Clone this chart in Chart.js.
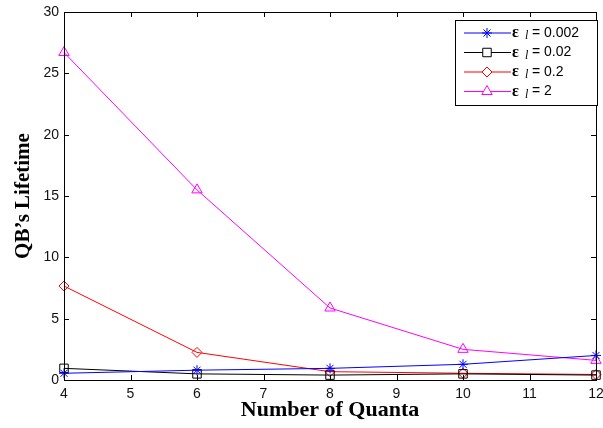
<!DOCTYPE html>
<html>
<head>
<meta charset="utf-8">
<script src="https://cdn.jsdelivr.net/npm/chart.js@4"></script>
<style>
  html, body { margin: 0; padding: 0; background: #fff; }
  #wrap { width: 603px; height: 428px; }
</style>
</head>
<body>
<div id="wrap"><canvas id="line-chart" width="603" height="428"></canvas></div>
<script>
var quanta = [4, 6, 8, 10, 12];
var life0002 = [0.55, 0.8, 0.95, 1.28, 2.0];
var life002 = [0.95, 0.5, 0.4, 0.5, 0.4];
var life02 = [7.66, 2.25, 0.68, 0.55, 0.45];
var life2 = [26.7, 15.5, 5.87, 2.5, 1.6];
var legendValues = ["0.002", "0.02", "0.2", "2"];

function pts(vals) {
  var out = [];
  for (var i = 0; i < quanta.length; i++) {
    out.push({ x: quanta[i], y: vals[i] });
  }
  return out;
}

// box, inward ticks and the legend drawn like the matlab figure
var matlabFrame = {
  id: 'matlabFrame',
  afterDraw: function (chart) {
    var ctx = chart.ctx;
    var a = chart.chartArea;
    var xs = chart.scales.x, ys = chart.scales.y;
    ctx.save();
    ctx.strokeStyle = '#000';
    ctx.lineWidth = 1;
    ctx.strokeRect(Math.round(a.left) + 0.5, Math.round(a.top) + 0.5, Math.round(a.right - a.left), Math.round(a.bottom - a.top));
    ctx.beginPath();
    xs.ticks.forEach(function (t) {
      var px = Math.round(xs.getPixelForValue(t.value)) + 0.5;
      ctx.moveTo(px, a.bottom); ctx.lineTo(px, a.bottom - 5);
      ctx.moveTo(px, a.top); ctx.lineTo(px, a.top + 5);
    });
    ys.ticks.forEach(function (t) {
      var py = Math.round(ys.getPixelForValue(t.value)) + 0.5;
      ctx.moveTo(a.left, py); ctx.lineTo(a.left + 5, py);
      ctx.moveTo(a.right, py); ctx.lineTo(a.right - 5, py);
    });
    ctx.stroke();

    // legend
    var bx = 455, by = 20, bw = 142, bh = 85;
    ctx.fillStyle = '#fff';
    ctx.fillRect(bx, by, bw, bh);
    ctx.strokeStyle = '#000';
    ctx.strokeRect(bx + 0.5, by + 0.5, bw, bh);
    chart.data.datasets.forEach(function (ds, i) {
      var ry = by + 13 + i * 19.5;
      ctx.strokeStyle = ds.borderColor;
      ctx.lineWidth = 1;
      ctx.beginPath();
      ctx.moveTo(464, ry); ctx.lineTo(511, ry);
      ctx.stroke();
      ctx.fillStyle = '#fff';
      Chart.helpers.drawPoint(ctx, {
        pointStyle: ds.pointStyle, radius: ds.pointRadius, borderWidth: 1
      }, 487, ry);
      ctx.fillStyle = '#000';
      ctx.textBaseline = 'middle';
      ctx.font = 'bold 16px "Liberation Serif"';
      ctx.fillText('\u03b5', 512, ry);
      ctx.font = 'italic 12px "Liberation Serif"';
      ctx.fillText('l', 525, ry + 3);
      ctx.font = '14px "Liberation Sans"';
      ctx.fillText('=', 532, ry);
      ctx.fillText(legendValues[i], 544, ry);
    });
    ctx.restore();
  }
};

var lineChart = new Chart(document.getElementById("line-chart"), {
  type: 'line',
  data: {
    datasets: [
      { label: 'eps 0.002', data: pts(life0002), borderColor: '#0000ff', pointStyle: 'star', pointRadius: 5 },
      { label: 'eps 0.02', data: pts(life002), borderColor: '#000000', pointStyle: 'rect', pointRadius: 6 },
      { label: 'eps 0.2', data: pts(life02), borderColor: '#ff0000', pointStyle: 'rectRot', pointRadius: 5 },
      { label: 'eps 2', data: pts(life2), borderColor: '#ff00ff', pointStyle: 'triangle', pointRadius: 6 }
    ].map(function (d) {
      d.borderWidth = 1;
      d.fill = false;
      d.tension = 0;
      d.pointBorderColor = d.borderColor;
      d.pointBackgroundColor = 'rgba(0,0,0,0)';
      d.pointBorderWidth = 1;
      return d;
    })
  },
  options: {
    responsive: false,
    animation: false,
    clip: false,
    layout: { padding: { top: 12, right: 4, left: 0, bottom: 0 } },
    plugins: { legend: { display: false }, tooltip: { enabled: false } },
    scales: {
      x: {
        type: 'linear', min: 4, max: 12,
        grid: { display: false, tickLength: 0 },
        border: { display: false },
        ticks: { stepSize: 1, color: '#111', padding: 6, font: { family: 'Liberation Sans', size: 14 } },
        title: { display: true, text: 'Number of Quanta', color: '#000', padding: { top: 2, bottom: 4 }, font: { family: 'Liberation Serif', size: 22, weight: 'bold' } },
        afterFit: function (s) { s.height = 48; s.paddingLeft = 0; s.paddingRight = 0; }
      },
      y: {
        min: 0, max: 30,
        grid: { display: false, tickLength: 0 },
        border: { display: false },
        ticks: { stepSize: 5, color: '#111', padding: 5, font: { family: 'Liberation Sans', size: 14 } },
        title: { display: true, text: 'QB\u2019s Lifetime', color: '#000', padding: { top: 11, bottom: 4 }, font: { family: 'Liberation Serif', size: 21, weight: 'bold' } },
        afterFit: function (s) { s.width = 64; s.paddingTop = 0; s.paddingBottom = 0; }
      }
    }
  },
  plugins: [matlabFrame]
});
</script>
</body>
</html>
